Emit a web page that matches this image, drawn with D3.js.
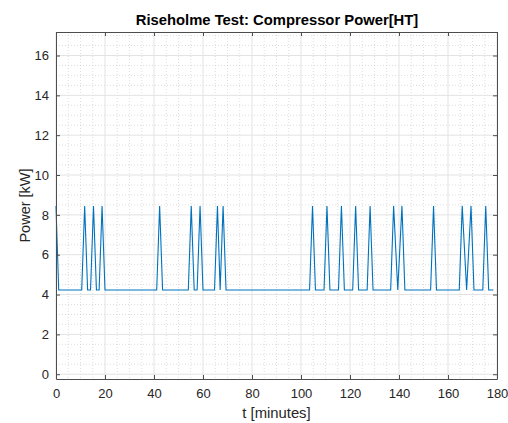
<!DOCTYPE html>
<html>
<head>
<meta charset="utf-8">
<script src="https://cdn.jsdelivr.net/npm/d3@7"></script>
<style>
  body { margin: 0; background: #fff; }
  svg { display: block; font-family: "Liberation Sans", Arial, sans-serif; }
</style>
</head>
<body>
<svg width="508" height="423"></svg>
<script>
// time (minutes) and compressor power (kW)
const tMinutes = [0, 1.1, 10.5, 11.7, 12.9, 14.1, 15.3, 16.5, 17.6, 18.8, 20.0,
    41.1, 42.3, 43.5, 54.0, 55.2, 56.4, 57.6, 58.8, 60.0,
    64.7, 65.9, 67.0, 68.2, 69.4,
    103.5, 104.7, 105.9, 109.4, 110.6, 111.8, 115.3, 116.5, 117.7,
    121.1, 122.3, 123.5, 127.0, 128.2, 129.4,
    136.6, 137.8, 139.5, 141.2, 142.4, 152.9, 154.1, 155.3,
    164.6, 165.8, 167.6, 169.4, 170.6, 174.2, 175.4, 176.6, 178.5];
const powerKW = [8.45, 4.23, 4.23, 8.45, 4.23, 4.23, 8.45, 4.23, 4.23, 8.45, 4.23,
    4.23, 8.45, 4.23, 4.23, 8.45, 4.23, 4.23, 8.45, 4.23,
    4.23, 8.45, 4.23, 8.45, 4.23,
    4.23, 8.45, 4.23, 4.23, 8.45, 4.23, 4.23, 8.45, 4.23,
    4.23, 8.45, 4.23, 4.23, 8.45, 4.23,
    4.23, 8.45, 4.23, 8.45, 4.23, 4.23, 8.45, 4.23,
    4.23, 8.45, 4.23, 8.45, 4.23, 4.23, 8.45, 4.23, 4.23];

const xTicks = [0, 20, 40, 60, 80, 100, 120, 140, 160, 180];
const yTicks = [0, 2, 4, 6, 8, 10, 12, 14, 16];
const xMinor = d3.range(0, 181, 5);
const yMinor = d3.range(0, 17.01, 0.5);

const svg = d3.select('svg')
const plotL = 56, plotR = 497, plotT = 32, plotB = 379

const xScale = d3.scaleLinear().domain([0, 180]).range([plotL, plotR])
const yScale = d3.scaleLinear().domain([-0.24, 17.18]).range([plotB, plotT])

const points = tMinutes.map((t, i) => ({t: t, p: powerKW[i]}))

// minor grid (dotted)
svg.append('g')
    .selectAll('line')
    .data(xMinor.filter(v => v % 20 !== 0))
    .enter()
    .append('line')
    .attr('x1', d => xScale(d)).attr('x2', d => xScale(d))
    .attr('y1', plotT).attr('y2', plotB)
    .attr('stroke', '#c8c8c8').attr('stroke-width', 0.6)
    .attr('stroke-dasharray', '1,2')
svg.append('g')
    .selectAll('line')
    .data(yMinor.filter(v => v % 2 !== 0))
    .enter()
    .append('line')
    .attr('y1', d => yScale(d)).attr('y2', d => yScale(d))
    .attr('x1', plotL).attr('x2', plotR)
    .attr('stroke', '#c8c8c8').attr('stroke-width', 0.6)
    .attr('stroke-dasharray', '1,2')

// major grid
svg.append('g')
    .selectAll('line')
    .data(xTicks)
    .enter()
    .append('line')
    .attr('x1', d => xScale(d)).attr('x2', d => xScale(d))
    .attr('y1', plotT).attr('y2', plotB)
    .attr('stroke', '#e3e3e3').attr('stroke-width', 1)
svg.append('g')
    .selectAll('line')
    .data(yTicks)
    .enter()
    .append('line')
    .attr('y1', d => yScale(d)).attr('y2', d => yScale(d))
    .attr('x1', plotL).attr('x2', plotR)
    .attr('stroke', '#e3e3e3').attr('stroke-width', 1)

// data line
const line = d3.line().x(d => xScale(d.t)).y(d => yScale(d.p))
svg.append('path')
    .datum(points)
    .attr('d', line)
    .attr('fill', 'none')
    .attr('stroke', '#0072BD')
    .attr('stroke-width', 1.1)

// axes with inward ticks, box on
const axColor = '#4d4d4d'
const xAxis = d3.axisBottom(xScale).tickValues(xTicks).tickSize(-4).tickSizeOuter(0).tickPadding(10)
const xAxisTop = d3.axisTop(xScale).tickValues(xTicks).tickSize(-4).tickSizeOuter(0).tickFormat('')
const yAxis = d3.axisLeft(yScale).tickValues(yTicks).tickSize(-4).tickSizeOuter(0).tickPadding(7)
const yAxisRight = d3.axisRight(yScale).tickValues(yTicks).tickSize(-4).tickSizeOuter(0).tickFormat('')

function styleAxis(g) {
    g.select('.domain').attr('stroke', axColor).attr('stroke-width', 1)
    g.selectAll('.tick line').attr('stroke', axColor)
    g.selectAll('.tick text').attr('fill', '#262626').style('font-size', '13px')
        .style('font-family', '"Liberation Sans", Arial, sans-serif')
}

svg.append('g').attr('transform', `translate(0,${plotB})`).call(xAxis).call(styleAxis)
svg.append('g').attr('transform', `translate(0,${plotT})`).call(xAxisTop).call(styleAxis)
svg.append('g').attr('transform', `translate(${plotL},0)`).call(yAxis).call(styleAxis)
svg.append('g').attr('transform', `translate(${plotR},0)`).call(yAxisRight).call(styleAxis)

// labels
svg.append('text')
    .attr('x', (plotL + plotR) / 2 + 0.5).attr('y', 25)
    .attr('text-anchor', 'middle')
    .attr('font-weight', 'bold').attr('font-size', '14.8px').attr('fill', '#000')
    .text('Riseholme Test: Compressor Power[HT]')
svg.append('text')
    .attr('x', (plotL + plotR) / 2).attr('y', 418)
    .attr('text-anchor', 'middle')
    .attr('font-size', '14.8px').attr('fill', '#262626')
    .text('t [minutes]')
svg.append('text')
    .attr('transform', `translate(30,${(plotT + plotB) / 2}) rotate(-90)`)
    .attr('text-anchor', 'middle')
    .attr('font-size', '14.5px').attr('fill', '#262626')
    .text('Power [kW]')
</script>
</body>
</html>
